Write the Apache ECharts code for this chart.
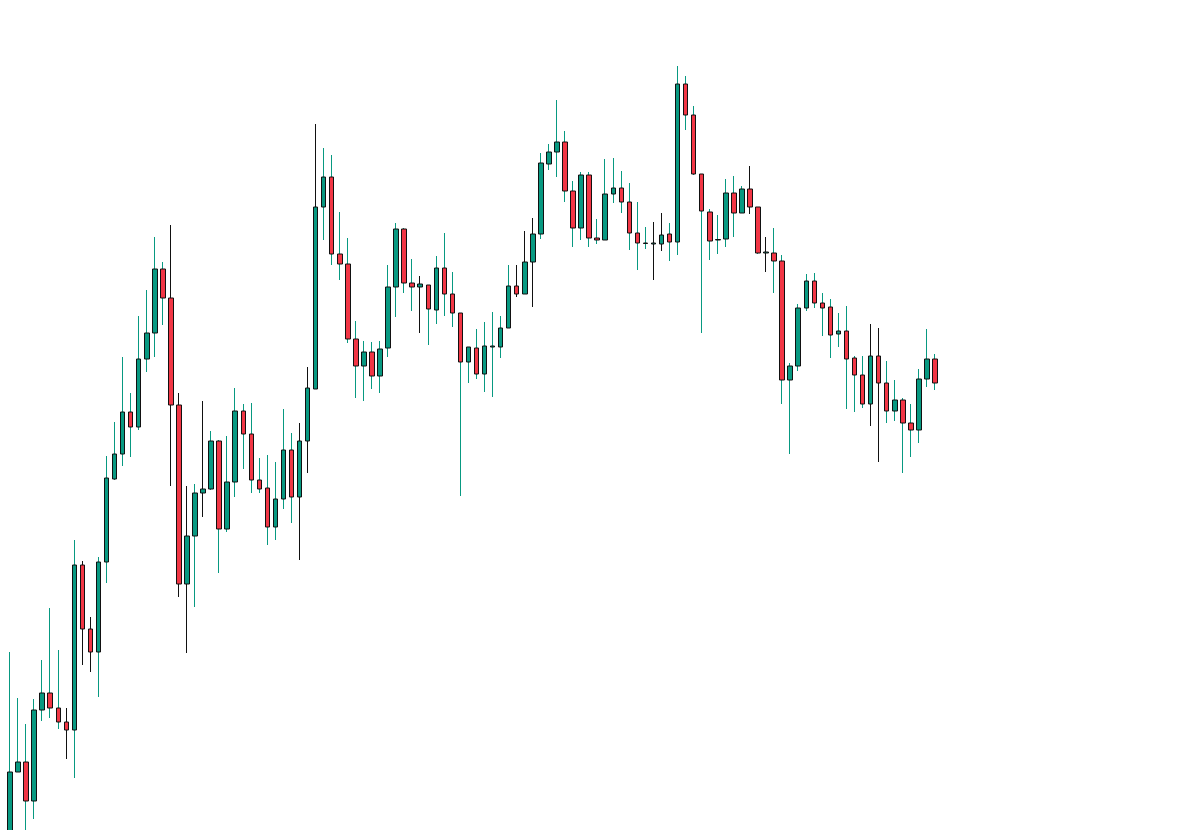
<!DOCTYPE html>
<html>
<head>
<meta charset="utf-8">
<title>Candles</title>
<script src="https://cdn.jsdelivr.net/npm/echarts@6/dist/echarts.min.js"></script>
<style>
  html, body { margin: 0; padding: 0; background: #fff; }
  #chart { width: 1200px; height: 830px; }
</style>
</head>
<body>
<div id="chart"></div>
<script>
// price values (no axis labels shown, so arbitrary units)
const opens = [
  -5, 58, 68, 29, 120, 137, 122, 108, 100, 265, 201, 178, 268, 351, 376, 418,
  403, 471, 497, 561, 532, 425, 246, 294, 337, 341, 389, 301, 348, 419, 396, 350,
  342, 303, 331, 380, 333, 389, 441, 623, 653, 576, 566, 491, 464, 478, 454, 482,
  543, 601, 547, 543, 545, 520, 562, 536, 517, 468, 482, 456, 483, 483, 502, 544,
  536, 568, 596, 666, 678, 688, 639, 602, 655, 592, 590, 636, 642, 628, 597, 587,
  586, 586, 596, 588, 746, 715, 656, 618, 590, 591, 637, 617, 641, 623, 577, 577,
  569, 450, 464, 522, 549, 527, 523, 496, 499, 472, 455, 426, 474, 447, 419, 430,
  407, 400, 451, 471
]
const closes = [
  58, 68, 29, 120, 137, 122, 108, 100, 265, 201, 178, 268, 352, 376, 418, 403,
  471, 497, 561, 532, 425, 246, 294, 337, 341, 389, 301, 348, 419, 396, 350, 341,
  303, 331, 380, 333, 389, 442, 623, 653, 576, 566, 491, 464, 478, 454, 481, 543,
  601, 547, 543, 546, 521, 562, 536, 517, 468, 483, 456, 484, 484, 502, 544, 536,
  568, 596, 667, 678, 688, 639, 602, 655, 592, 590, 636, 642, 628, 597, 587, 586.5,
  587, 595, 588, 746, 715, 656, 619, 589, 590.5, 637, 617, 641, 623, 577, 578, 569,
  450, 464, 522, 549, 527, 522, 495, 499, 471, 455, 426, 474, 447, 419, 430, 407,
  400, 451, 471, 447
]
const lows = [
  -10, 58, -2, 11, 109, 112, 101, 71, 52, 165, 158, 133, 247, 350, 364, 373,
  400, 458, 473, 505, 344, 233, 177, 223, 313, 340, 257, 298, 333, 361, 337, 337,
  285, 290, 321, 307, 270, 357, 441, 590, 565, 550, 487, 432, 429, 441, 437, 473,
  513, 537, 519, 497, 485, 506, 514, 503, 334, 447, 451, 438, 433, 472, 502, 533,
  536, 523, 591, 660, 653, 628, 583, 590, 583, 586, 590, 627, 617, 580, 560, 581,
  550, 579, 569, 575, 700, 655, 497, 570, 576, 583, 593, 617, 616, 576, 558, 537,
  426, 376, 459, 519, 522, 494, 472, 483, 421, 418, 422, 404, 368, 407, 409, 357,
  373, 387, 443, 440
]
const highs = [
  178, 132, 106, 131, 170, 222, 180, 122, 290, 269, 213, 273, 374, 408, 473, 437,
  514, 540, 593, 568, 605, 437, 344, 346, 429, 399, 390, 394, 442, 426, 427, 372,
  375, 368, 421, 397, 407, 463, 706, 682, 675, 618, 592, 509, 489, 488, 489, 565,
  607, 602, 571, 554, 545, 574, 597, 558, 517, 483, 501, 508, 518, 514, 565, 565,
  599, 612, 677, 686, 730, 699, 649, 658, 658, 611, 671, 672, 659, 647, 628, 603,
  608, 617, 607, 764, 754, 724, 656, 621, 615, 651, 654, 644, 664, 623, 593, 602,
  575, 467, 526, 556, 557, 537, 531, 517, 524, 474, 474, 506, 502, 469, 450, 432,
  426, 461, 501, 476
]
const categories = opens.map((v, i) => String(i + 1))

// candles whose wick is drawn dark instead of teal
const darkWicks = [7, 9, 10, 20, 21, 22, 24, 36, 37, 38, 51, 63, 64, 65, 80, 81, 92, 94, 107, 108]

const UP = '#089981'
const DOWN = '#f23645'

const chart = echarts.init(document.getElementById('chart'))

// wick layer: full range, thin
const wickData = opens.map((o, i) => {
  const item = { value: [o, closes[i], lows[i], highs[i]] }
  if (darkWicks.indexOf(i) >= 0) {
    item.itemStyle = { color: '#111', color0: '#111', borderColor: '#111', borderColor0: '#111' }
  }
  return item
})
// body layer: only open/close range so no extra wick is drawn
const bodyData = opens.map((o, i) => [o, closes[i], Math.min(o, closes[i]), Math.max(o, closes[i])])

chart.setOption({
  animation: false,
  backgroundColor: '#fff',
  grid: { left: 6, right: 261, top: 0, bottom: 0 },
  xAxis: {
    type: 'category',
    data: categories,
    boundaryGap: true,
    show: false
  },
  yAxis: {
    type: 'value',
    min: 0,
    max: 830,
    show: false,
    splitLine: { show: false }
  },
  series: [
    {
      name: 'wick',
      type: 'candlestick',
      data: wickData,
      barWidth: 1,
      itemStyle: {
        color: UP,
        color0: UP,
        borderColor: UP,
        borderColor0: UP,
        borderWidth: 1
      }
    },
    {
      name: 'body',
      type: 'candlestick',
      data: bodyData,
      barWidth: 5,
      itemStyle: {
        color: UP,
        color0: DOWN,
        borderColor: '#111',
        borderColor0: '#111',
        borderWidth: 1
      }
    }
  ]
})
</script>
</body>
</html>
